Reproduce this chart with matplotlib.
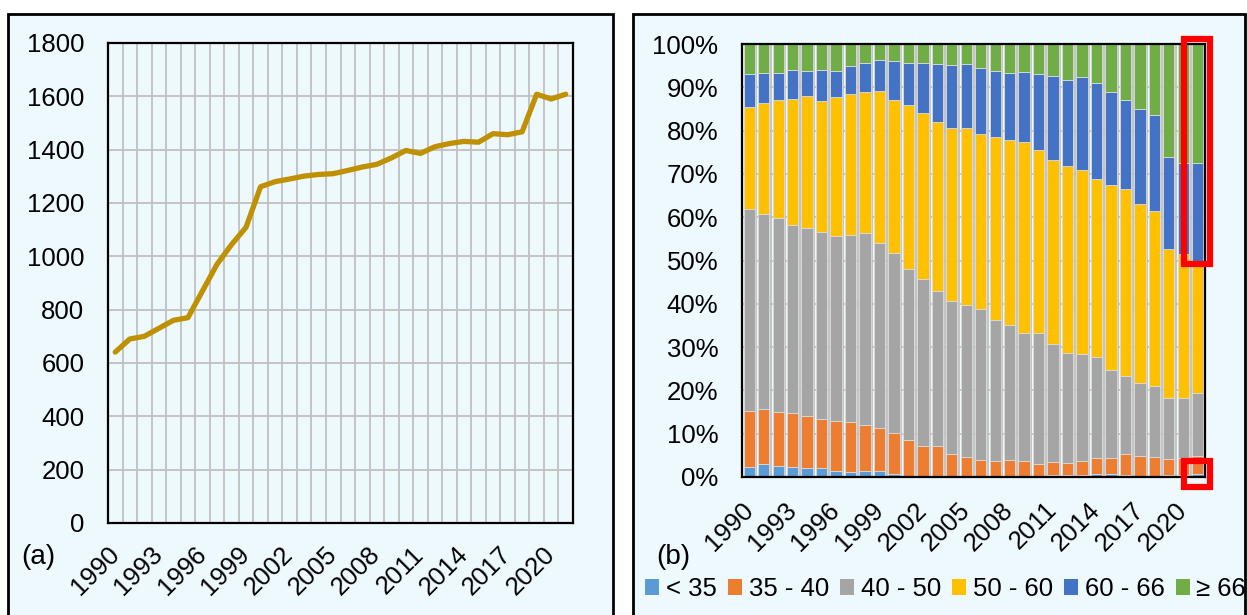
import matplotlib
matplotlib.use('Agg')
import matplotlib.pyplot as plt
from matplotlib.patches import Rectangle, Patch
import numpy as np

# ---------------- data ----------------
years = list(range(1990, 2022))
totals = [641, 690, 700, 730, 760, 770, 870, 970, 1044, 1109,
          1261, 1280, 1290, 1301, 1307, 1310, 1322, 1335, 1345, 1369,
          1397, 1386, 1411, 1423, 1431, 1428, 1460, 1456, 1467, 1608,
          1590, 1608]

age_groups = ['< 35', '35 - 40', '40 - 50', '50 - 60', '60 - 66', '≥ 66']
share_lt35 = [2.2, 3.1, 2.5, 2.2, 2.1, 2.0, 1.3, 1.2, 1.4, 1.4,
              0.8, 0.3, 0.1, 0.0, 0.0, 0.0, 0.0, 0.0, 0.0, 0.0,
              0.0, 0.5, 0.4, 0.4, 0.6, 0.7, 0.5, 0.3, 0.3, 0.4,
              0.4, 0.6]
share_35_40 = [13.1, 12.5, 12.4, 12.5, 11.9, 11.3, 11.7, 11.6, 10.6, 10.0,
               9.4, 8.3, 7.1, 7.1, 5.3, 4.6, 4.0, 3.6, 3.9, 3.6,
               3.1, 2.9, 2.9, 3.4, 3.9, 3.8, 4.7, 4.5, 4.3, 3.7,
               4.0, 4.2]
share_40_50 = [46.7, 45.2, 44.9, 43.6, 43.4, 43.3, 42.7, 43.1, 44.3, 42.6,
               41.6, 39.4, 38.5, 35.8, 35.4, 35.2, 34.7, 32.6, 31.2, 29.6,
               30.1, 27.4, 25.4, 24.6, 23.1, 20.1, 18.1, 16.8, 16.5, 14.2,
               13.9, 14.7]
share_50_60 = [23.5, 25.5, 27.3, 29.1, 30.5, 30.3, 32.0, 32.5, 32.6, 35.2,
               35.3, 38.0, 38.4, 39.1, 39.8, 40.7, 40.6, 42.3, 42.7, 44.2,
               42.3, 42.3, 43.1, 42.6, 41.3, 42.9, 43.2, 41.5, 40.4, 34.4,
               33.2, 30.5]
share_60_66 = [7.5, 6.9, 6.2, 6.5, 5.8, 7.0, 6.0, 6.5, 6.8, 7.0,
               8.9, 9.7, 11.6, 13.3, 14.7, 14.8, 15.1, 15.2, 15.5, 16.1,
               17.5, 19.5, 20.0, 21.3, 22.2, 21.3, 20.6, 22.0, 22.0, 21.1,
               21.1, 22.6]
share_ge66 = [7.0, 6.8, 6.7, 6.1, 6.3, 6.1, 6.3, 5.1, 4.3, 3.8,
              4.0, 4.3, 4.3, 4.7, 4.8, 4.7, 5.6, 6.3, 6.7, 6.5,
              7.0, 7.4, 8.2, 7.7, 8.9, 11.2, 12.9, 14.9, 16.5, 26.2,
              27.4, 27.4]

group_colors = ['#5B9BD5', '#ED7D31', '#A5A5A5', '#FFC000', '#4472C4', '#70AD47']
line_color = '#BF9000'

# ---------------- layout helpers ----------------
W, H = 1247, 615
plt.rcParams['font.family'] = ['Liberation Sans', 'DejaVu Sans']
FS = 18.5
fig = plt.figure(figsize=(W / 100, H / 100), dpi=100)
bg = '#EEF9FE'


def fx(px):
    return px / W


def fy(py):
    return 1 - py / H


# panel backgrounds
for x0, x1 in [(8, 613), (633, 1245)]:
    fig.patches.append(Rectangle((fx(x0), fy(700)), (x1 - x0) / W, (700 - 14) / H,
                                 transform=fig.transFigure, facecolor=bg,
                                 edgecolor='black', linewidth=2, zorder=-10))

grid_kw = dict(color='#C0C0C0', linewidth=1.3)
x = np.arange(len(years))

# ---------------- panel (a) ----------------
ax1 = fig.add_axes([fx(108), fy(523), 465 / W, 480 / H])
ax1.set_facecolor('none')
ax1.plot(x, totals, color=line_color, linewidth=3.8, solid_capstyle='round',
         solid_joinstyle='round', zorder=3)
ax1.set_xlim(-0.5, len(years) - 0.5)
ax1.set_ylim(0, 1800)
ax1.set_yticks(np.arange(0, 1801, 200))
ax1.set_xticks(x[::3])
ax1.set_xticklabels([str(y) for y in years[::3]], rotation=45, ha='right',
                    va='center', rotation_mode='anchor')
ax1.set_xticks(x[:-1] + 0.5, minor=True)
ax1.grid(axis='y', which='major', **grid_kw)
ax1.grid(axis='x', which='minor', **grid_kw)
ax1.set_axisbelow(True)
ax1.tick_params(axis='both', which='both', length=0, labelsize=FS)
ax1.tick_params(axis='y', pad=17)
ax1.tick_params(axis='x', pad=20)
for s in ax1.spines.values():
    s.set_linewidth(1.6)
    s.set_color('black')

# ---------------- panel (b) ----------------
ax2 = fig.add_axes([fx(742), fy(477), 463 / W, 433 / H])
ax2.set_facecolor('none')
series = [share_lt35, share_35_40, share_40_50, share_50_60, share_60_66, share_ge66]
bottom = np.zeros(len(years))
for vals, col, lab in zip(series, group_colors, age_groups):
    v = np.array(vals)
    ax2.bar(x, v, width=0.78, bottom=bottom, color=col, label=lab,
            edgecolor='#DADADA', linewidth=0.6, zorder=3)
    bottom += v
ax2.set_xlim(-0.5, len(years) - 0.5)
ax2.set_ylim(0, 100)
ax2.set_yticks(np.arange(0, 101, 10))
ax2.set_yticklabels([f'{v}%' for v in range(0, 101, 10)])
ax2.set_xticks(x[::3])
ax2.set_xticklabels([str(y) for y in years[::3]], rotation=45, ha='right',
                    va='center', rotation_mode='anchor')
ax2.set_xticks(x[:-1] + 0.5, minor=True)
ax2.grid(axis='y', which='major', **grid_kw)
ax2.grid(axis='x', which='minor', **grid_kw)
ax2.set_axisbelow(True)
ax2.tick_params(axis='both', which='both', length=0, labelsize=FS)
ax2.tick_params(axis='y', pad=17)
ax2.tick_params(axis='x', pad=21)
for s in ax2.spines.values():
    s.set_linewidth(1.6)
    s.set_color('black')
    s.set_zorder(5)

# red highlight boxes around the last year
last = len(years) - 1
ax2.add_patch(Rectangle((last - 0.95, 49.2), 1.83, 52.0, fill=False,
                        edgecolor='#FF0000', linewidth=4.5, clip_on=False, zorder=6))
ax2.add_patch(Rectangle((last - 0.95, -2.3), 1.83, 6.1, fill=False,
                        edgecolor='#FF0000', linewidth=4.5, clip_on=False, zorder=6))

# panel labels
fig.text(fx(38), fy(557), '(a)', fontsize=20, ha='center', va='center')
fig.text(fx(673), fy(557), '(b)', fontsize=20, ha='center', va='center')

# legend
handles = [Patch(facecolor=c, edgecolor='none') for c in group_colors]
fig.legend(handles, age_groups, loc='center left',
           bbox_to_anchor=(fx(645), fy(589)), ncol=6, frameon=False,
           fontsize=18.5, handlelength=0.56, handleheight=0.56,
           handletextpad=0.25, columnspacing=0.43, borderpad=0, borderaxespad=0)

fig.savefig('out.png', dpi=100, facecolor='white')
